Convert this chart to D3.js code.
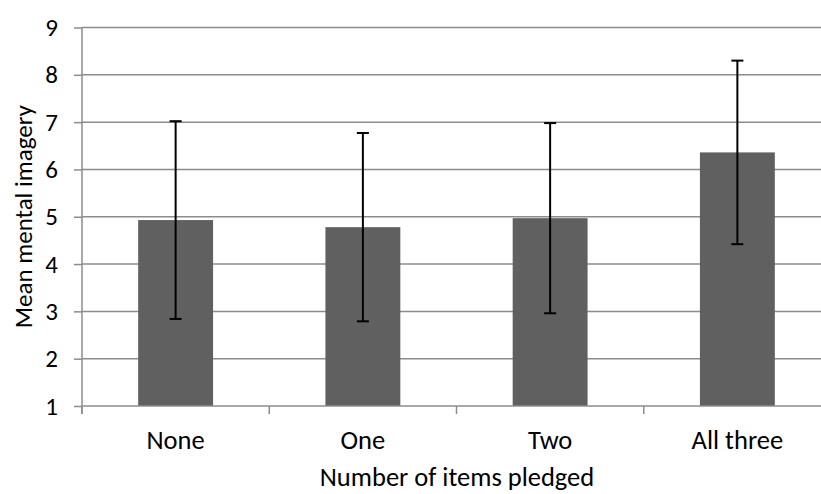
<!DOCTYPE html>
<html>
<head>
<meta charset="utf-8">
<script src="https://cdn.jsdelivr.net/npm/d3@7"></script>
<style>
  html, body { margin: 0; padding: 0; background: #fff; }
  svg { display: block; }
  text { font-family: Carlito, Calibri, Lato, sans-serif; fill: #000; }
</style>
</head>
<body>
<svg id="chart" width="821" height="494"></svg>
<script>
const categories = ["None", "One", "Two", "All three"];
const means = [4.93, 4.78, 4.97, 6.36];
const errors = [2.09, 1.99, 2.01, 1.94];
const yTicks = [1, 2, 3, 4, 5, 6, 7, 8, 9];
const xTitle = "Number of items pledged";
const yTitle = "Mean mental imagery";

const svg = d3.select("#chart");
const pLeft = 82, pRight = 831, pTop = 27.5, pBottom = 406;

const x = d3.scaleBand().domain(categories).range([pLeft, pRight])
  .paddingInner(0.6).paddingOuter(0.3);
const y = d3.scaleLinear().domain([1, 9]).range([pBottom, pTop]);
const step = x.step();

// gridlines
svg.append("g").selectAll("line").data(yTicks.slice(1)).join("line")
  .attr("x1", pLeft).attr("x2", 821)
  .attr("y1", d => y(d)).attr("y2", d => y(d))
  .attr("stroke", "#8c8c8c").attr("stroke-width", 1.5);

// bars
svg.append("g").selectAll("rect").data(categories).join("rect")
  .attr("x", d => x(d)).attr("width", x.bandwidth())
  .attr("y", (d, i) => y(means[i]))
  .attr("height", (d, i) => y(1) - y(means[i]))
  .attr("fill", "#606060");

// y axis
const yAxis = d3.axisLeft(y).tickValues(yTicks).tickSize(8).tickPadding(16)
  .tickFormat(d3.format("d"));
const gy = svg.append("g").attr("transform", `translate(${pLeft},0)`).call(yAxis);
gy.select(".domain").attr("stroke", "#8c8c8c").attr("stroke-width", 1.5)
  .attr("d", `M0,${pTop}V${pBottom + 8}`);
gy.selectAll(".tick line").attr("stroke", "#8c8c8c").attr("stroke-width", 1.5);
gy.selectAll(".tick text").style("font-size", "25px")
  .style("font-family", "Carlito, Calibri, Lato, sans-serif").attr("fill", "#000");

// x axis
const xb = d3.scaleLinear().domain([0, categories.length]).range([pLeft, pLeft + step * categories.length]);
const gx = svg.append("g").attr("transform", `translate(0,${pBottom})`);
gx.append("line").attr("x1", pLeft).attr("x2", 821).attr("y1", 0).attr("y2", 0)
  .attr("stroke", "#8c8c8c").attr("stroke-width", 1.5);
gx.selectAll("line.tk").data(d3.range(0, categories.length + 1)).join("line")
  .attr("class", "tk")
  .attr("x1", d => xb(d)).attr("x2", d => xb(d)).attr("y1", 0).attr("y2", 8)
  .attr("stroke", "#8c8c8c").attr("stroke-width", 1.5);
gx.selectAll("text").data(categories).join("text")
  .attr("x", d => x(d) + x.bandwidth() / 2).attr("y", 43)
  .attr("text-anchor", "middle").style("font-size", "26.5px").text(d => d);

// error bars
const eb = svg.append("g").attr("stroke", "#000").attr("stroke-width", 2);
categories.forEach((c, i) => {
  const cx = x(c) + x.bandwidth() / 2;
  eb.append("line").attr("x1", cx).attr("x2", cx)
    .attr("y1", y(means[i] + errors[i])).attr("y2", y(means[i] - errors[i]));
  [means[i] + errors[i], means[i] - errors[i]].forEach(v => {
    eb.append("line").attr("x1", cx - 6).attr("x2", cx + 6)
      .attr("y1", y(v)).attr("y2", y(v));
  });
});

// titles
svg.append("text").attr("x", 457).attr("y", 486).attr("text-anchor", "middle")
  .style("font-size", "26.5px").text(xTitle);
svg.append("text").attr("transform", `translate(32,${(pTop + pBottom) / 2}) rotate(-90)`)
  .attr("text-anchor", "middle").style("font-size", "25px").text(yTitle);
</script>
</body>
</html>
